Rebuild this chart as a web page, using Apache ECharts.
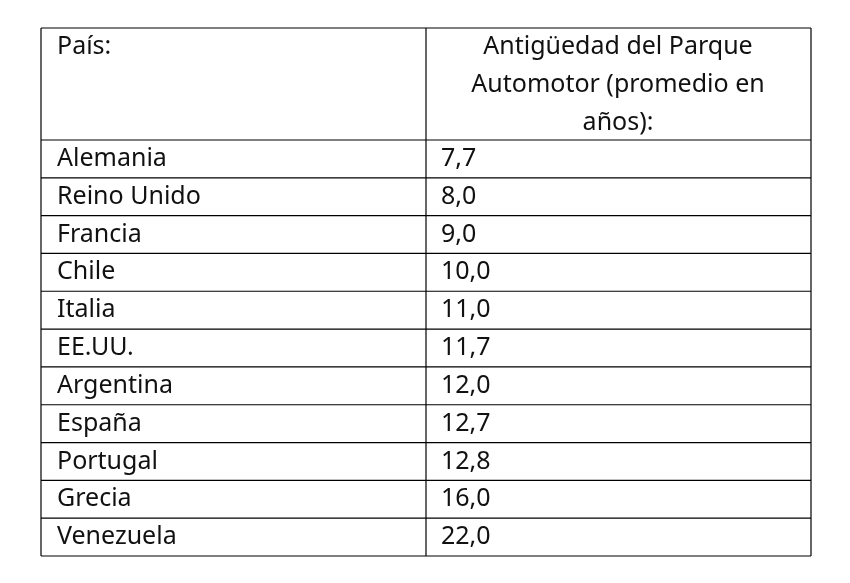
<!DOCTYPE html>
<html><head><meta charset="utf-8">
<script src="https://cdn.jsdelivr.net/npm/echarts@6/dist/echarts.min.js"></script>
<style>html,body{margin:0;background:#fff}#c{width:850px;height:583px}</style>
</head><body><div id="c"></div>
<script>
const headerCol1 = "País:";
const headerCol2 = ["Antigüedad del Parque", "Automotor (promedio en", "años):"];
const countries = ["Alemania","Reino Unido","Francia","Chile","Italia","EE.UU.","Argentina","España","Portugal","Grecia","Venezuela"];
const values = ["7,7","8,0","9,0","10,0","11,0","11,7","12,0","12,7","12,8","16,0","22,0"];

const L=41,R=811,M=426,T=28,H=140,B=556;
const rh=(B-H)/countries.length;
const font='25px "Noto Sans", sans-serif';
const g=[];
const line=(x1,y1,x2,y2)=>g.push({type:'line',shape:{x1,y1,x2,y2},style:{stroke:'#000',lineWidth:1.2}});
line(L,T,R,T);line(L,B,R,B);line(L,T,L,B);line(R,T,R,B);line(M,T,M,B);
line(L,H,R,H);
for(let i=1;i<countries.length;i++){line(L,H+i*rh,R,H+i*rh);}
g.push({type:'text',x:57,y:47,style:{text:headerCol1,font,fill:'#111',textVerticalAlign:'middle'}});
headerCol2.forEach((t,i)=>g.push({type:'text',x:618,y:47+i*38,style:{text:t,font,fill:'#111',textAlign:'center',textVerticalAlign:'middle'}}));
countries.forEach((c,i)=>{
  const y=H+i*rh+rh/2;
  g.push({type:'text',x:57,y,style:{text:c,font,fill:'#111',textVerticalAlign:'middle'}});
  g.push({type:'text',x:441,y,style:{text:values[i],font,fill:'#111',textVerticalAlign:'middle'}});
});
const chart=echarts.init(document.getElementById('c'));
chart.setOption({animation:false,graphic:g});
</script></body></html>
